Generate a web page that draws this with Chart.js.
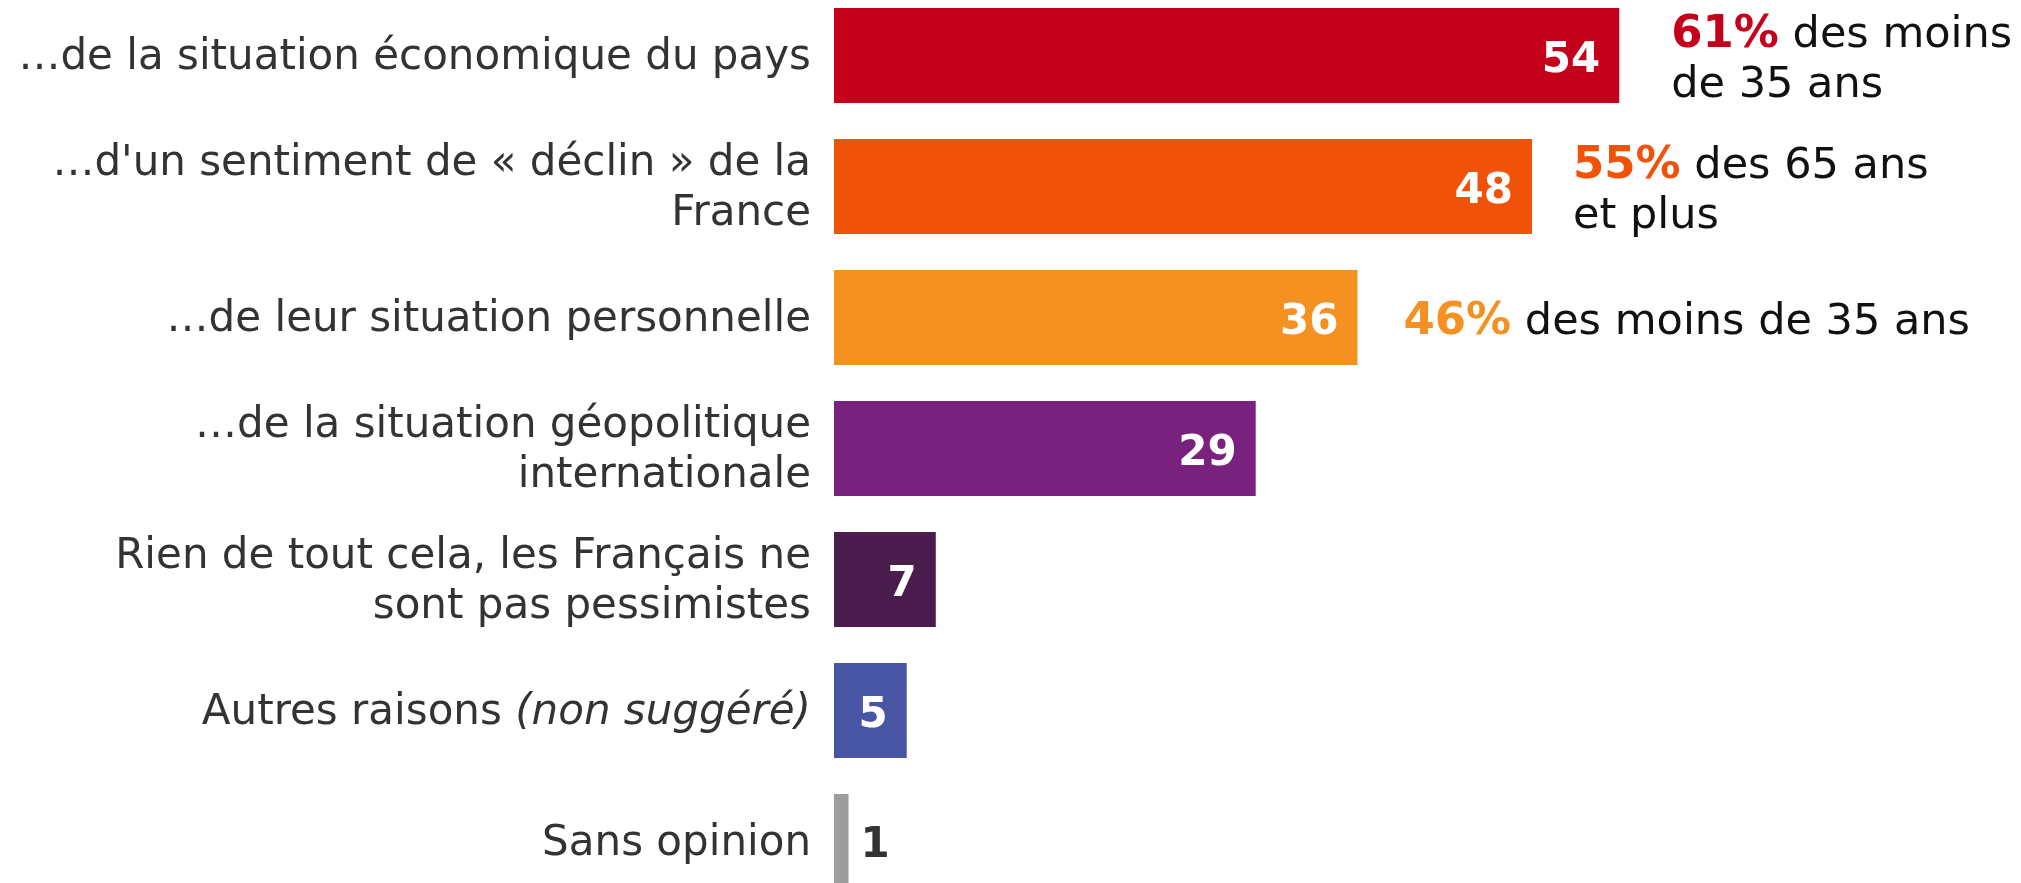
<!DOCTYPE html>
<html>
<head>
<meta charset="utf-8">
<script src="https://cdn.jsdelivr.net/npm/chart.js@4/dist/chart.umd.min.js"></script>
<style>
  html, body { margin: 0; padding: 0; background: #fff; overflow: hidden; }
  #wrap { position: absolute; left: 0; top: -10px; width: 2021px; height: 917px; }
</style>
</head>
<body>
<div id="wrap"><canvas id="pessChart"></canvas></div>
<script>
const categories = [
  ["…de la situation économique du pays"],
  ["…d'un sentiment de « déclin » de la", "France"],
  ["…de leur situation personnelle"],
  ["…de la situation géopolitique", "internationale"],
  ["Rien de tout cela, les Français ne", "sont pas pessimistes"],
  ["Autres raisons "],
  ["Sans opinion"],
];
const italicSuffix = ["", "", "", "", "", "(non suggéré)", ""];
const values = [54, 48, 36, 29, 7, 5, 1];
const barColors = ["#C5001A", "#F0520A", "#F59120", "#78217E", "#4B1D4F", "#4855A5", "#9D9D9D"];

// side notes: highlighted figure + rest of text (lines)
const noteFigures = ["61%", "55%", "46%", "", "", "", ""];
const noteLines = [
  [" des moins", "de 35 ans"],
  [" des 65 ans", "et plus"],
  [" des moins de 35 ans"],
  [], [], [], [],
];

const labelFont = "42px 'DejaVu Sans'";
const labelFontIt = "italic 42px 'DejaVu Sans'";
const valueFont = "bold 42px 'DejaVu Sans'";
const figureFont = "bold 45px 'DejaVu Sans'";
const noteFont = "43px 'DejaVu Sans'";
const noteGaps = [52, 41, 46];

const labelsPlugin = {
  id: "labelsPlugin",
  afterDatasetsDraw(chart) {
    const ctx = chart.ctx;
    const yScale = chart.scales.y;
    const meta = chart.getDatasetMeta(0);
    const lineH = 50;
    ctx.save();
    ctx.textBaseline = "middle";

    // category labels on the left
    categories.forEach((lines, i) => {
      const yc = yScale.getPixelForValue(i) + 3;
      const right = yScale.right - 23;
      const y0 = yc - (lines.length - 1) * lineH / 2;
      lines.forEach((line, k) => {
        const y = y0 + k * lineH;
        let x = right;
        ctx.textAlign = "right";
        ctx.fillStyle = "#333333";
        if (k === lines.length - 1 && italicSuffix[i]) {
          ctx.font = labelFontIt;
          ctx.fillText(italicSuffix[i], x, y);
          x -= ctx.measureText(italicSuffix[i]).width;
        }
        ctx.font = labelFont;
        ctx.fillText(line, x, y);
      });
    });

    // values on bars
    meta.data.forEach((bar, i) => {
      ctx.font = valueFont;
      if (values[i] < 3) {
        ctx.textAlign = "left";
        ctx.fillStyle = "#333333";
        ctx.fillText(String(values[i]), bar.x + 12, bar.y + 5);
      } else {
        ctx.textAlign = "right";
        ctx.fillStyle = "#ffffff";
        ctx.fillText(String(values[i]), bar.x - 19, bar.y + 6);
      }
    });

    // side notes
    meta.data.forEach((bar, i) => {
      if (!noteFigures[i]) return;
      const lines = noteLines[i];
      const x0 = bar.x + noteGaps[i];
      const y0 = bar.y + 5 - (lines.length - 1) * 25;
      ctx.textAlign = "left";
      ctx.font = figureFont;
      ctx.fillStyle = barColors[i];
      ctx.fillText(noteFigures[i], x0, y0);
      const fw = ctx.measureText(noteFigures[i]).width;
      ctx.font = noteFont;
      ctx.fillStyle = "#111111";
      lines.forEach((line, k) => {
        ctx.fillText(line, k === 0 ? x0 + fw : x0, y0 + k * 50);
      });
    });
    ctx.restore();
  },
};

new Chart(document.getElementById("pessChart"), {
  type: "bar",
  data: {
    labels: categories.map((c) => c.join(" ")),
    datasets: [
      {
        data: values,
        backgroundColor: barColors,
        borderWidth: 0,
        barPercentage: 0.725,
        categoryPercentage: 1,
      },
    ],
  },
  options: {
    indexAxis: "y",
    responsive: true,
    maintainAspectRatio: false,
    animation: false,
    layout: { padding: 0 },
    plugins: {
      legend: { display: false },
      tooltip: { enabled: false },
    },
    scales: {
      x: { display: false, min: 0, max: 81.63 },
      y: {
        grid: { display: false },
        border: { display: false },
        ticks: { display: false },
        afterFit(scale) {
          scale.width = 834;
        },
      },
    },
  },
  plugins: [labelsPlugin],
});
</script>
</body>
</html>
